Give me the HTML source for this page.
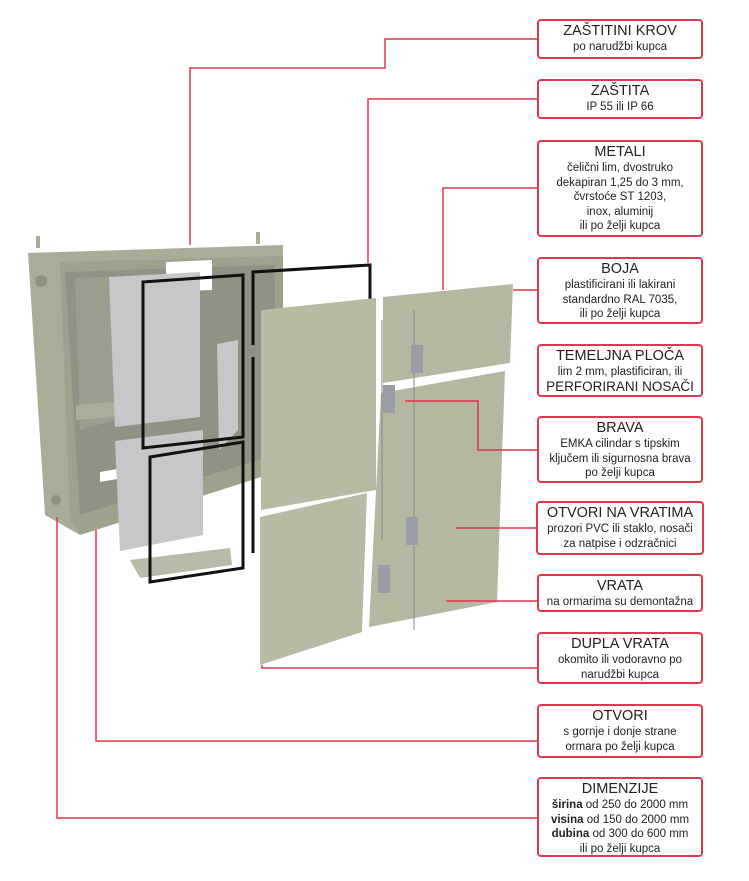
<!DOCTYPE html>
<html><head><meta charset="utf-8"><style>
body{margin:0;background:#fff;width:749px;height:881px;overflow:hidden;position:relative;font-family:"Liberation Sans",sans-serif;color:#222}
.b{position:absolute;left:537px;width:166px;border:2px solid #e2364f;border-radius:4px;background:#fff;text-align:center;font-size:11.5px;line-height:14.5px;box-sizing:border-box;padding-top:2px}
.b .t{font-size:14.5px;line-height:17px}
svg{position:absolute;left:0;top:0}
</style></head><body>
<svg width="749" height="881" viewBox="0 0 749 881">
<polygon points="28,253 283,245 283,470 80,535 45,515" fill="#a9ad98"/>
<polygon points="60,262 283,256 283,470 80,535 70,520" fill="#9ea28d"/>
<polygon points="65,272 275,265 275,455 80,515" fill="#8e9384"/>
<polygon points="75,278 150,275 150,410 80,430" fill="#9a9e8d"/>
<polygon points="76,405 200,395 200,410 76,420" fill="#a9ad99"/>
<polygon points="100,472 140,465 140,475 100,482" fill="#fff"/>
<polygon points="166,262 212,260 212,290 166,292" fill="#fff"/>
<rect x="36" y="236" width="4" height="12" fill="#a9ad98"/><rect x="256" y="232" width="4" height="12" fill="#a9ad98"/>
<circle cx="41" cy="281" r="6" fill="#8e9282"/><circle cx="56" cy="500" r="5" fill="#8e9282"/>
<polygon points="109,277 200,272 200,417 115,427" fill="#c5c7c8"/>
<polygon points="115,441 203,430 203,535 120,551" fill="#c5c7c8"/>
<polygon points="217,344 238,340 238,430 219,450" fill="#c5c7c8"/>
<polygon points="130,560 230,548 232,565 140,578" fill="#b8bba8"/>
<polygon points="143,282 243,275 243,437 143,448" fill="none" stroke="#111" stroke-width="3"/>
<polygon points="150,457 243,442 243,568 150,582" fill="none" stroke="#111" stroke-width="3"/>
<polyline points="253,345 253,272 370,265 370,300" fill="none" stroke="#111" stroke-width="3"/>
<polyline points="253,357 253,553" fill="none" stroke="#111" stroke-width="3"/>
<polygon points="261,310 376,298 376,490 261,510" fill="#b7bba3"/>
<polygon points="260,517 367,493 362,632 260,665" fill="#b7bba3"/>
<polygon points="383,297 513,284 510,363 383,383" fill="#b4b8a0"/>
<polygon points="381,393 505,371 497,602 369,627" fill="#b4b8a0"/>
<line x1="382" y1="320" x2="382" y2="540" stroke="#888" stroke-width="1"/>
<line x1="414" y1="310" x2="414" y2="630" stroke="#888" stroke-width="1"/>
<rect x="383" y="385" width="12" height="28" fill="#9a9da5"/><rect x="411" y="345" width="12" height="28" fill="#9a9da5"/>
<rect x="406" y="517" width="12" height="28" fill="#9a9da5"/><rect x="378" y="565" width="12" height="28" fill="#9a9da5"/>
<g fill="none" stroke="#e2364f" stroke-width="1.5">
<polyline points="537,39 385,39 385,68 190,68 190,245"/>
<polyline points="537,99 368,99 368,263"/>
<polyline points="537,188 443,188 443,290"/>
<polyline points="537,290 513,290"/>
<polyline points="537,450 478,450 478,401 405,401"/>
<polyline points="537,528 456,528"/>
<polyline points="537,601 446,601"/>
<polyline points="537,668 262,668 262,665"/>
<polyline points="537,741 96,741 96,530"/>
<polyline points="537,818 57,818 57,517"/>
</g>
</svg>
<div class="b" style="top:19px;height:40px"><div class="t">ZAŠTITINI KROV</div>po narudžbi kupca</div>
<div class="b" style="top:79px;height:40px"><div class="t">ZAŠTITA</div>IP 55 ili IP 66</div>
<div class="b" style="top:140px;height:97px"><div class="t">METALI</div>čelični lim, dvostruko<br>dekapiran 1,25 do 3 mm,<br>čvrstoće ST 1203,<br>inox, aluminij<br>ili po želji kupca</div>
<div class="b" style="top:257px;height:67px"><div class="t">BOJA</div>plastificirani ili lakirani<br>standardno RAL 7035,<br>ili po želji kupca</div>
<div class="b" style="top:344px;height:53px"><div class="t">TEMELJNA PLOČA</div>lim 2 mm, plastificiran, ili<br><span style="font-size:13.5px">PERFORIRANI NOSAČI</span></div>
<div class="b" style="top:416px;height:67px"><div class="t">BRAVA</div>EMKA cilindar s tipskim<br>ključem ili sigurnosna brava<br>po želji kupca</div>
<div class="b" style="top:501px;height:54px;left:536px;width:168px"><div class="t">OTVORI NA VRATIMA</div>prozori PVC ili staklo, nosači<br>za natpise i odzračnici</div>
<div class="b" style="top:574px;height:38px"><div class="t">VRATA</div>na ormarima su demontažna</div>
<div class="b" style="top:632px;height:52px"><div class="t">DUPLA VRATA</div>okomito ili vodoravno po<br>narudžbi kupca</div>
<div class="b" style="top:704px;height:54px"><div class="t">OTVORI</div>s gornje i donje strane<br>ormara po želji kupca</div>
<div class="b" style="top:777px;height:80px"><div class="t">DIMENZIJE</div><b>širina</b> od 250 do 2000 mm<br><b>visina</b> od 150 do 2000 mm<br><b>dubina</b> od 300 do 600 mm<br>ili po želji kupca</div>
</body></html>
